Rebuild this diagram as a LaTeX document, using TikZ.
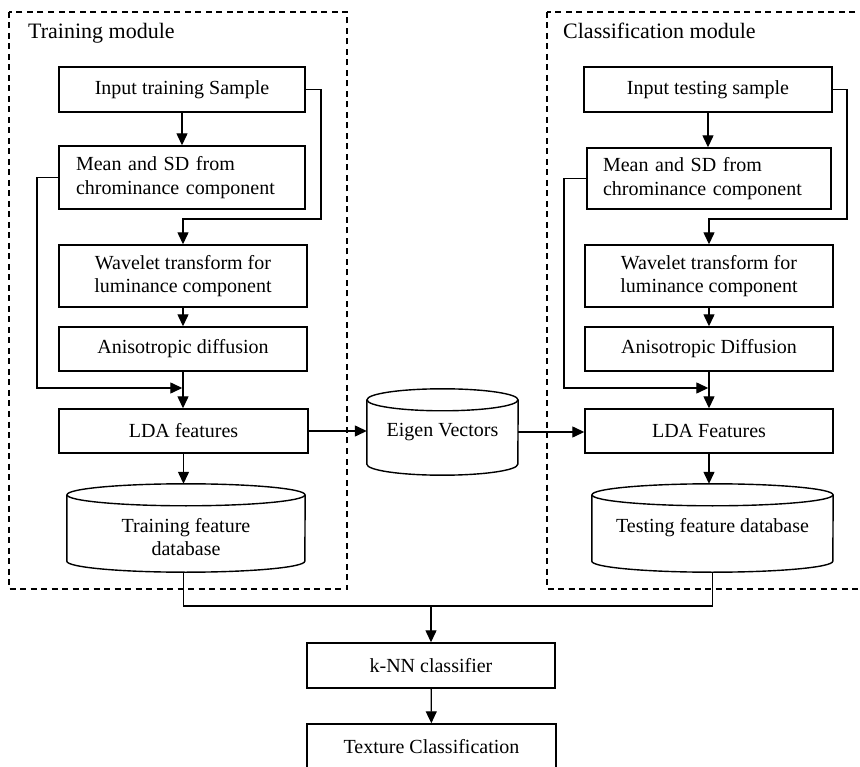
\documentclass[tikz,border=0pt]{standalone}
\usepackage{fontspec}
\setmainfont{Liberation Serif}
\usetikzlibrary{arrows.meta,calc}

% outline of a drum (database) symbol around a named node:
% #1 node, #2 half width (pt), #3 radius of the end caps (pt)
\newcommand\drumoutline[3]{%
  \draw[line width=1.4pt] ($(#1.north west)+(0,#3)$) -- ($(#1.south west)+(0,-#3)$)
    arc[start angle=180, end angle=360, x radius=#2pt, y radius=#3pt]
    -- ($(#1.north east)+(0,#3)$);
  \draw[line width=1.4pt] ($(#1.north)+(0,#3)$) ellipse[x radius=#2pt, y radius=#3pt];
}

\begin{document}
\begin{tikzpicture}[x=1pt,y=-1pt,
  box/.style={draw, line width=1.4pt, inner sep=0pt, align=center,
    font=\fontsize{20}{23.5}\selectfont},
  drum/.style={inner sep=0pt, align=center, font=\fontsize{20}{23.5}\selectfont},
  sz/.style 2 args={minimum width=#1pt, minimum height=#2pt},
  head/.style={inner sep=0pt, font=\fontsize{22}{26}\selectfont},
  lbl/.style={inner sep=0pt, align=center, font=\fontsize{20}{23.5}\selectfont},
  line/.style={draw, line width=1.3pt},
  arr/.style={line, -{Triangle[length=12pt,width=11pt]}},
  frame/.style={draw, line width=1.3pt, dash pattern=on 6pt off 4.5pt}
]
\useasboundingbox (0,0) rectangle (860,767);
\fill[white] (0,0) rectangle (860,767);
\clip (0,0) rectangle (860,767);

% module frames
\draw[frame] (9,12) rectangle (347,589);
\draw[frame] (547,12) rectangle (880,589);
\node[head, anchor=base west] (h1) at (28,39) {Training module};
\node[head, anchor=base west] (h2) at (563,39) {Classification module};

% training module
\node[box, sz={246}{45}] (in1) at (182,89.5) {Input training Sample};
\node[box, sz={246}{63}, text width=212pt, align=left, inner xsep=17pt] (ms1) at (182,177.5)
  {Mean and SD from\\chrominance component};
\node[box, sz={248}{62}] (wv1) at (183,276) {Wavelet transform for\\luminance component};
\node[box, sz={248}{44}] (an1) at (183,349) {Anisotropic diffusion};
\node[box, sz={249}{44}] (lda1) at (183.5,431) {LDA features};
\node[drum, sz={238}{88},
  label={[lbl, yshift=-9pt]center:{Training feature\\database}}] (db1) at (186,528) {};
\drumoutline{db1}{119}{11}

% shared eigen vectors
\node[drum, sz={151}{86}] (ev) at (442.5,432) {Eigen Vectors};
\drumoutline{ev}{75.5}{11}

% classification module
\node[box, sz={248}{45}] (in2) at (708,89.5) {Input testing sample};
\node[box, sz={244}{61}, text width=212pt, align=left, inner xsep=16pt] (ms2) at (709,178.5)
  {Mean and SD from\\chrominance component};
\node[box, sz={248}{62}] (wv2) at (709,276) {Wavelet transform for\\luminance component};
\node[box, sz={248}{44}] (an2) at (709,349) {Anisotropic Diffusion};
\node[box, sz={248}{44}] (lda2) at (709,431) {LDA Features};
\node[drum, sz={241}{88}] (db2) at (712.5,528) {Testing feature database};
\drumoutline{db2}{120.5}{11}

% final stage
\node[box, sz={248}{45}] (knn) at (431,665.5) {k-NN classifier};
\node[box, sz={249}{46}] (tex) at (431.5,747) {Texture Classification};

% training connectors
\coordinate (t1) at (321,219);
\coordinate (t2) at (37,388);
\draw[arr] (in1) -- (ms1);
\draw[arr] (in1.east) -| (t1) -| (wv1.north);
\draw[arr] (wv1) -- (an1);
\draw[arr] (an1.south) -- (an1.south |- lda1.north);
\draw[arr, shorten >=0.7pt] (ms1.west) -| (t2) -- (t2 -| an1.south);
\draw[arr] (lda1.south) -- (lda1.south |- db1.north);
\draw[arr] (lda1.east) -- (lda1.east -| ev.west);
\draw[arr] (ev.east) -- (ev.east -| lda2.west);

% classification connectors
\coordinate (c1) at (847,219);
\coordinate (c2) at (564,388);
\draw[arr] (in2.south) -- (in2.south |- ms2.north);
\draw[arr] (in2.east) -| (c1) -| (wv2.north);
\draw[arr] (wv2) -- (an2);
\draw[arr] (an2) -- (lda2);
\draw[arr, shorten >=0.7pt] (ms2.west) -| (c2) -- (c2 -| an2.south);
\draw[arr] (lda2.south) -- (lda2.south |- db2.north);

% both databases feed the classifier
\coordinate (mg) at (431,606);
\draw[line] (lda1.south |- db1.south) -- (lda1.south |- mg) -- (db2.south |- mg) -- (db2.south);
\draw[arr] (mg) -- (knn);
\draw[arr] (knn) -- (tex);
\end{tikzpicture}
\end{document}
